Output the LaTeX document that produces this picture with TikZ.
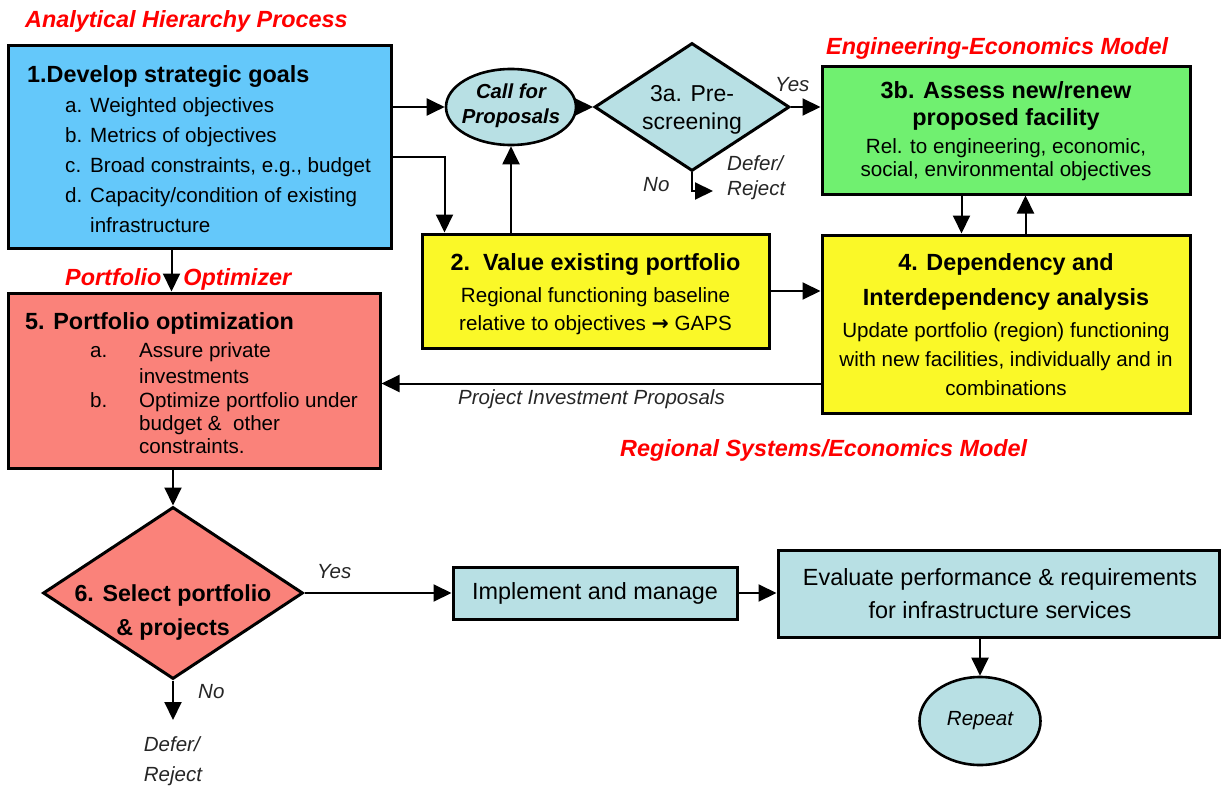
\documentclass[tikz,border=0pt]{standalone}
\usepackage{fontspec}
\setmainfont{Liberation Sans}
\newfontfamily\arrowfont{DejaVu Sans}
\usetikzlibrary{arrows.meta,shapes.geometric,calc}
\definecolor{skyfill}{RGB}{100,200,250}
\definecolor{lemon}{RGB}{250,248,40}
\definecolor{mint}{RGB}{112,240,112}
\definecolor{salmonfill}{RGB}{250,130,122}
\definecolor{paleteal}{RGB}{184,224,228}
\definecolor{labelred}{RGB}{255,0,0}
\newcommand\fsz[2]{\fontsize{#1}{#2}\selectfont}

\begin{document}
\begin{tikzpicture}[x=1pt,y=-1pt,
  panel/.style={draw=black, line width=3pt, rectangle, inner sep=0pt},
  rhomb/.style={draw=black, line width=3pt, diamond, inner sep=0pt, fill=paleteal},
  oval/.style={draw=black, line width=2.6pt, ellipse, inner sep=0pt, fill=paleteal},
  link/.style={line width=2pt, -{Triangle[length=18pt,width=17pt]}},
  redtag/.style={text=labelred, font=\fsz{23.4}{28}\bfseries\itshape, inner sep=0pt},
  note/.style={font=\fsz{20.5}{25}\itshape, inner sep=0pt, text=black!85},
  body/.style={inner sep=0pt, text=black},
]
\useasboundingbox (0,0) rectangle (1221,789);
\fill[white] (0,0) rectangle (1221,789);

% ---------- shapes ----------
\node[panel, fill=skyfill, minimum width=383pt, minimum height=202pt] (goals) at (199.5,147) {};
\node[panel, fill=salmonfill, minimum width=372pt, minimum height=175pt] (optim) at (194,380.5) {};
\node[panel, fill=lemon, minimum width=347pt, minimum height=114pt] (value) at (595.5,291) {};
\node[panel, fill=mint, minimum width=368pt, minimum height=127pt] (assess) at (1006,130.5) {};
\node[panel, fill=lemon, minimum width=368pt, minimum height=178pt] (depend) at (1006,324) {};
\node[panel, fill=paleteal, minimum width=284pt, minimum height=52pt] (impl) at (595,593) {};
\node[panel, fill=paleteal, minimum width=441pt, minimum height=87pt] (eval) at (998.5,593.5) {};
\node[oval, minimum width=130pt, minimum height=76pt] (call) at (511,107) {};
\node[rhomb, minimum width=195pt, minimum height=128pt] (screen) at (692,107) {};
\node[rhomb, fill=salmonfill, minimum width=260pt, minimum height=172pt] (select) at (173,593) {};
\node[oval, minimum width=121pt, minimum height=88pt] (again) at (980,721) {};

% ---------- section titles ----------
\node[redtag, anchor=base west] (ahp) at (25,28) {Analytical Hierarchy Process};
\node[redtag, anchor=base west] (eem) at (826,55) {Engineering-Economics Model};
\node[redtag, anchor=base west] (rsem) at (620,456) {Regional Systems/Economics Model};
\node[redtag, anchor=base west] (popt) at (65,285) {Portfolio\hspace*{22pt}Optimizer};

% ---------- box texts ----------
\node[body, anchor=north west, align=left, font=\fsz{20.6}{30}] (goalstxt) at (27,65.2) {%
  \textbf{\fsz{23.4}{30}1.Develop strategic goals}\\[0.5pt]
  \hspace*{38pt}\makebox[25pt][l]{a.}Weighted objectives\\
  \hspace*{38pt}\makebox[25pt][l]{b.}Metrics of objectives\\
  \hspace*{38pt}\makebox[25pt][l]{c.}Broad constraints, e.g., budget\\
  \hspace*{38pt}\makebox[25pt][l]{d.}Capacity/condition of existing\\
  \hspace*{63pt}infrastructure};

\node[body, anchor=north west, align=left, font=\fsz{20.6}{23}] (optimtxt) at (25,312) {%
  \textbf{\fsz{23.4}{28}5. Portfolio optimization}\\[5pt]
  \hspace*{65pt}\makebox[49pt][l]{a.}Assure private\\[3pt]
  \hspace*{114pt}investments\\[1pt]
  \hspace*{65pt}\makebox[49pt][l]{b.}Optimize portfolio under\\
  \hspace*{114pt}budget \&\ \ other\\
  \hspace*{114pt}constraints.};

\node[body, anchor=north, align=center, font=\fsz{20.6}{28}] (valuetxt) at (595.5,253.4) {%
  \textbf{\fsz{23.4}{28}2.\ \ Value existing portfolio}\\[4pt]
  Regional functioning baseline\\
  relative to objectives {\arrowfont\bfseries →} GAPS};

\node[body, anchor=north, align=center, font=\fsz{20.6}{23}] (assesstxt) at (1006,81.6) {%
  \textbf{\fsz{23.4}{27}3b. Assess new/renew}\\[4pt]
  \textbf{\fsz{23.4}{27}proposed facility}\\[5pt]
  Rel. to engineering, economic,\\
  social, environmental objectives};

\node[body, anchor=north, align=center, font=\fsz{20.6}{29}] (dependtxt) at (1006,253) {%
  \textbf{\fsz{23.4}{29}4. Dependency and}\\[6pt]
  \textbf{\fsz{23.4}{29}Interdependency analysis}\\[3pt]
  Update portfolio (region) functioning\\
  with new facilities, individually and in\\
  combinations};

\node[body, align=center, font=\fsz{20.3}{25}\bfseries\itshape] (calltxt) at (511,106) {Call for\\Proposals};
\node[body, anchor=north, align=center, font=\fsz{23}{28}] (screentxt) at (692,85.5) {3a. Pre-\\screening};
\node[body, anchor=north, align=center, font=\fsz{23.2}{34}\bfseries] (selecttxt) at (173,584) {6. Select portfolio\\\& projects};
\node[body, font=\fsz{23.4}{28}] (impltxt) at (impl) {Implement and manage};
\node[body, align=center, font=\fsz{23.4}{33}] (evaltxt) at (1000,594) {Evaluate performance \& requirements\\for infrastructure services};
\node[body, font=\fsz{20.5}{25}\itshape] (againtxt) at (again) {Repeat};

% ---------- branch labels ----------
\node[note, anchor=base west] (yes3) at (775,92) {Yes};
\node[note, anchor=base west] (no3) at (643,191) {No};
\node[note, anchor=north west, align=left] (defer3) at (727,155) {Defer/\\Reject};
\node[note, anchor=base west] (yes6) at (317,578) {Yes};
\node[note, anchor=base west] (no6) at (198,698) {No};
\node[note, anchor=north, align=left, inner ysep=16pt, font=\fsz{20.5}{30}\itshape] (defer6) at (173,720) {Defer/\\Reject};
\node[note, anchor=base west] (pip) at (458,404) {Project Investment Proposals};

% ---------- connectors ----------
\coordinate (rej3) at (713,191);
\draw[link] (goals.east |- call.west) -- (call.west);
\draw[link] (call.east) -- (screen.west);
\draw[link] (screen.east) -- (assess.west |- screen.east);
\draw[link] (screen.south) |- (rej3);
\draw[link] ($(goals.north east)+(0,113)$) -| ($(value.north west)+(24,0)$);
\draw[link] (value.north -| call.south) -- (call.south);
\draw[link] (value.east) -- (depend.west |- value.east);
\draw[link] ($(assess.south west)+(141,0)$) -- ($(depend.north west)+(141,0)$);
\draw[link] ($(depend.north west)+(205,0)$) -- ($(assess.south west)+(205,0)$);
\draw[link] ($(depend.north west)+(0,150)$) -- ($(optim.north east)+(0,92)$);
\draw[link] ($(goals.south west)+(165,0)$) -- ($(optim.north west)+(165,0)$);
\draw[link] (optim.south -| select.north) -- (select.north);
\draw[link] (select.east) -- (impl.west);
\draw[link] (impl.east) -- (eval.west |- impl.east);
\draw[link] (eval.south -| again.north) -- (again.north);
\draw[link] (select.south) -- (defer6.north);
\end{tikzpicture}
\end{document}
